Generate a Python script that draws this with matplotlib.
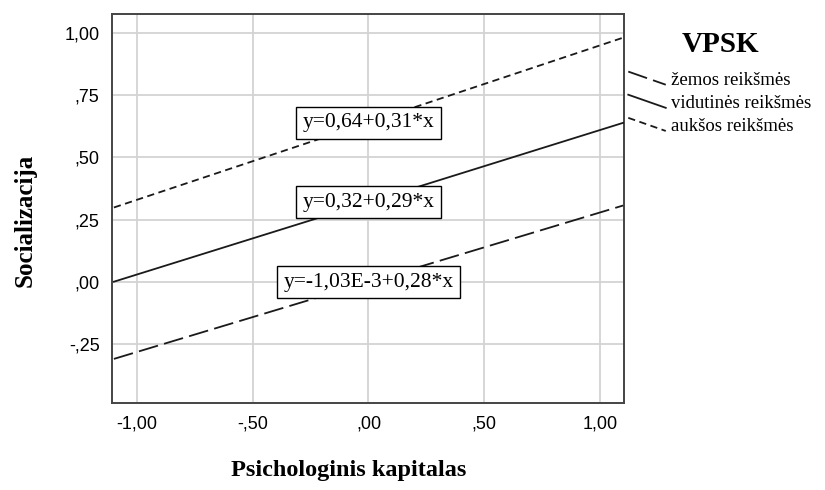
import numpy as np
import matplotlib
matplotlib.use("Agg")
import matplotlib.pyplot as plt
from matplotlib.legend_handler import HandlerBase
from matplotlib.lines import Line2D

# fit lines for the three VPSK groups
groups = ["žemos reikšmės", "vidutinės reikšmės", "aukšos reikšmės"]
intercepts = [-1.03e-3, 0.32, 0.64]
slopes = [0.28, 0.29, 0.31]
equations = ["y=-1,03E-3+0,28*x", "y=0,32+0,29*x", "y=0,64+0,31*x"]
x_range = [-1.1, 1.1]

x_ticks = [-1.0, -0.5, 0.0, 0.5, 1.0]
x_ticklabels = ["-1,00", "-,50", ",00", ",50", "1,00"]
y_ticks = [-0.25, 0.0, 0.25, 0.5, 0.75, 1.0]
y_ticklabels = ["-,25", ",00", ",25", ",50", ",75", "1,00"]

styles = [(0, (11, 3.5)), "-", (0, (4, 2.5))]


class SlantHandler(HandlerBase):
    # SPSS-style slanted legend sample
    def create_artists(self, legend, orig_handle, xdescent, ydescent,
                       width, height, fontsize, trans):
        line = Line2D([-xdescent, -xdescent + width],
                      [-ydescent + height, -ydescent],
                      color=orig_handle.get_color(),
                      linestyle=orig_handle.get_linestyle(),
                      lw=orig_handle.get_linewidth())
        dashes = orig_handle._unscaled_dash_pattern[1]
        if dashes:
            line.set_dashes(dashes)
        line.set_transform(trans)
        return [line]


fig = plt.figure(figsize=(8.25, 4.9), dpi=100)
ax = fig.add_axes([0.1358, 0.1776, 0.6206, 0.7938])

xs = np.array(x_range)
handles = []
for b0, b1, ls, name in zip(intercepts, slopes, styles, groups):
    h, = ax.plot(xs, b0 + b1 * xs, color="#1a1a1a", lw=1.3, linestyle=ls,
                 label=name, zorder=3)
    handles.append(h)

for b0, eq in zip(intercepts, equations):
    ax.text(0.0, b0, eq, ha="center", va="center", fontsize=15.5,
            family="Liberation Serif", zorder=5,
            bbox=dict(boxstyle="square,pad=0.3", fc="white", ec="black", lw=1))

ax.set_xlim(-1.108, 1.104)
ax.set_ylim(-0.486, 1.076)
ax.set_xticks(x_ticks)
ax.set_xticklabels(x_ticklabels)
ax.set_yticks(y_ticks)
ax.set_yticklabels(y_ticklabels)
ax.tick_params(length=0, pad=9, labelsize=13)
for lab in ax.get_xticklabels() + ax.get_yticklabels():
    lab.set_family("Liberation Sans")
ax.grid(True, color="#d3d3d3", lw=1.3, zorder=0)
ax.set_axisbelow(True)
for sp in ax.spines.values():
    sp.set_color("#444444")
    sp.set_linewidth(1.4)

ax.set_xlabel("Psichologinis kapitalas", family="Liberation Serif",
              fontweight="bold", fontsize=17.5)
ax.xaxis.set_label_coords(0.463, -0.147)
ax.set_ylabel("Socializacija", family="Liberation Serif",
              fontweight="bold", fontsize=18)
ax.yaxis.set_label_coords(-0.148, 0.47)

leg = ax.legend(handles=handles, loc="upper left",
                bbox_to_anchor=(0.757, 0.945), bbox_transform=fig.transFigure,
                frameon=False, prop={"family": "Liberation Serif", "size": 13.5},
                handler_map={Line2D: SlantHandler()},
                handlelength=2.0, handleheight=0.7, handletextpad=0.3,
                labelspacing=0.32, borderaxespad=0, borderpad=0.2)
leg.set_title("VPSK", prop={"family": "Liberation Serif", "weight": "bold",
                            "size": 21})
leg._legend_box.sep = 10

fig.savefig("out.png", dpi=100)
